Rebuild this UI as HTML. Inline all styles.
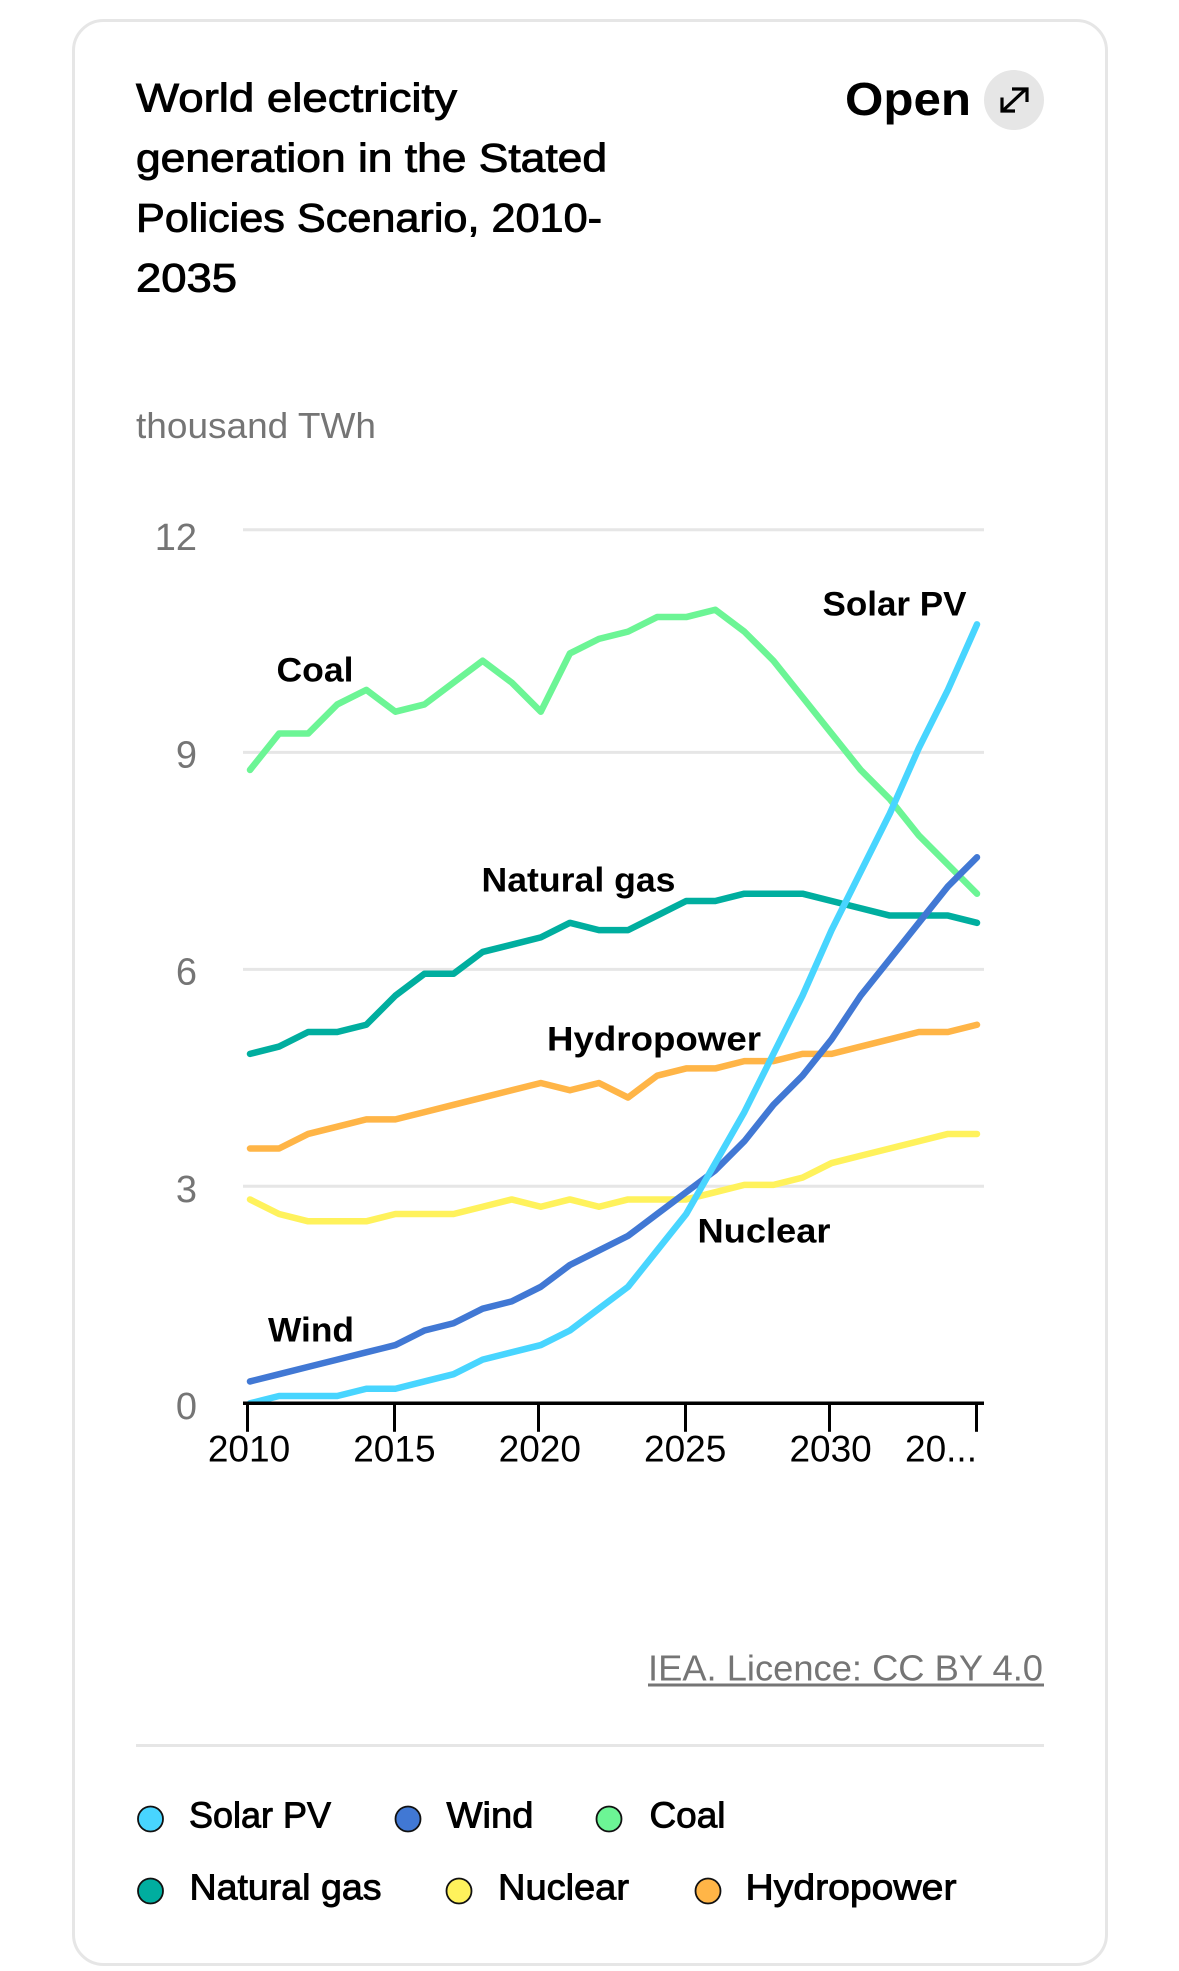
<!DOCTYPE html>
<html lang="en">
<head>
<meta charset="utf-8">
<title>World electricity generation in the Stated Policies Scenario, 2010-2035</title>
<style>
  html, body { margin: 0; padding: 0; background: #ffffff; }
  svg { display: block; font-family: "Liberation Sans", sans-serif; }
  .title { font-size: 40px; font-weight: 400; fill: #000; stroke: #000; stroke-width: 0.9px; }
  .label { font-size: 34px; font-weight: 700; fill: #000; }
  .legend-text { font-size: 36px; font-weight: 400; fill: #000; stroke: #000; stroke-width: 0.9px; }
  .muted { font-size: 36px; fill: #757575; }
  .ytick { font-size: 38px; fill: #757575; }
  .xtick { font-size: 37px; fill: #000; }
</style>
</head>
<body>
<svg id="chart" xmlns="http://www.w3.org/2000/svg" width="1179" height="1971" viewBox="0 0 1179 1971">
  <defs>
    <clipPath id="plot-clip"><rect x="240" y="500" width="750" height="904"></rect></clipPath>
  </defs>
  <rect x="73.5" y="20.5" width="1033" height="1944" rx="30" ry="30" fill="#fff" stroke="#e6e6e6" stroke-width="3"></rect>

  <g>
    <text class="title" x="136" y="111.5" textLength="321" lengthAdjust="spacingAndGlyphs">World electricity</text>
    <text class="title" x="136" y="171.5" textLength="471" lengthAdjust="spacingAndGlyphs">generation in the Stated</text>
    <text class="title" x="136" y="231.5" textLength="466" lengthAdjust="spacingAndGlyphs">Policies Scenario, 2010-</text>
    <text class="title" x="136" y="291.5" textLength="101" lengthAdjust="spacingAndGlyphs">2035</text>
  </g>

  <g>
    <text x="845" y="115" font-size="46" font-weight="700" fill="#000" textLength="126" lengthAdjust="spacingAndGlyphs">Open</text>
    <circle cx="1014" cy="100" r="30" fill="#e6e6e6"></circle>
    <path d="M1003 110.5 L1026 89 M1012 89 H1027 V102 M1002 97.5 V111 H1015" fill="none" stroke="#000" stroke-width="3.2"></path>
  </g>

  <text class="muted" x="136" y="438" textLength="240" lengthAdjust="spacingAndGlyphs">thousand TWh</text>

  <g id="grid"></g>
  <g id="y-labels"></g>
  <g id="series" clip-path="url(#plot-clip)"></g>
  <g id="x-axis"></g>

  <g>
    <text class="label" x="276.5" y="681.5" textLength="77" lengthAdjust="spacingAndGlyphs">Coal</text>
    <text class="label" x="481.5" y="891.5" textLength="194" lengthAdjust="spacingAndGlyphs">Natural gas</text>
    <text class="label" x="822.5" y="615.5" textLength="144" lengthAdjust="spacingAndGlyphs">Solar PV</text>
    <text class="label" x="547" y="1050.5" textLength="214" lengthAdjust="spacingAndGlyphs">Hydropower</text>
    <text class="label" x="697.5" y="1242.5" textLength="133" lengthAdjust="spacingAndGlyphs">Nuclear</text>
    <text class="label" x="268" y="1341.5" textLength="86" lengthAdjust="spacingAndGlyphs">Wind</text>
  </g>

  <g>
    <text class="muted" x="648" y="1680.5" textLength="395" lengthAdjust="spacingAndGlyphs">IEA. Licence: CC BY 4.0</text>
    <line x1="648" y1="1685" x2="1044" y2="1685" stroke="#757575" stroke-width="3"></line>
  </g>

  <line x1="136" y1="1745.5" x2="1044" y2="1745.5" stroke="#e6e6e6" stroke-width="3"></line>

  <g>
    <g>
      <circle cx="150.5" cy="1819" r="12.5" fill="#48d5ff" stroke="#111" stroke-width="1.8"></circle>
      <text class="legend-text" x="189" y="1827.5" textLength="142" lengthAdjust="spacingAndGlyphs">Solar PV</text>
    </g>
    <g>
      <circle cx="408" cy="1819" r="12.5" fill="#4178d4" stroke="#111" stroke-width="1.8"></circle>
      <text class="legend-text" x="446.5" y="1827.5" textLength="87" lengthAdjust="spacingAndGlyphs">Wind</text>
    </g>
    <g>
      <circle cx="609" cy="1819" r="12.5" fill="#6cf595" stroke="#111" stroke-width="1.8"></circle>
      <text class="legend-text" x="649.5" y="1827.5" textLength="76" lengthAdjust="spacingAndGlyphs">Coal</text>
    </g>
    <g>
      <circle cx="150.5" cy="1891" r="12.5" fill="#00ae9f" stroke="#111" stroke-width="1.8"></circle>
      <text class="legend-text" x="189.5" y="1899.5" textLength="192" lengthAdjust="spacingAndGlyphs">Natural gas</text>
    </g>
    <g>
      <circle cx="459" cy="1891" r="12.5" fill="#fff25c" stroke="#111" stroke-width="1.8"></circle>
      <text class="legend-text" x="498" y="1899.5" textLength="131" lengthAdjust="spacingAndGlyphs">Nuclear</text>
    </g>
    <g>
      <circle cx="708" cy="1891" r="12.5" fill="#ffb547" stroke="#111" stroke-width="1.8"></circle>
      <text class="legend-text" x="745.5" y="1899.5" textLength="211" lengthAdjust="spacingAndGlyphs">Hydropower</text>
    </g>
  </g>
</svg>

<script>
const years = [2010,2011,2012,2013,2014,2015,2016,2017,2018,2019,2020,2021,2022,2023,2024,2025,2026,2027,2028,2029,2030,2031,2032,2033,2034,2035];
const hydropower = [3.5,3.5,3.7,3.8,3.9,3.9,4.0,4.1,4.2,4.3,4.4,4.3,4.4,4.2,4.5,4.6,4.6,4.7,4.7,4.8,4.8,4.9,5.0,5.1,5.1,5.2];
const nuclear = [2.8,2.6,2.5,2.5,2.5,2.6,2.6,2.6,2.7,2.8,2.7,2.8,2.7,2.8,2.8,2.8,2.9,3.0,3.0,3.1,3.3,3.4,3.5,3.6,3.7,3.7];
const naturalGas = [4.8,4.9,5.1,5.1,5.2,5.6,5.9,5.9,6.2,6.3,6.4,6.6,6.5,6.5,6.7,6.9,6.9,7.0,7.0,7.0,6.9,6.8,6.7,6.7,6.7,6.6];
const coal = [8.7,9.2,9.2,9.6,9.8,9.5,9.6,9.9,10.2,9.9,9.5,10.3,10.5,10.6,10.8,10.8,10.9,10.6,10.2,9.7,9.2,8.7,8.3,7.8,7.4,7.0];
const wind = [0.3,0.4,0.5,0.6,0.7,0.8,1.0,1.1,1.3,1.4,1.6,1.9,2.1,2.3,2.6,2.9,3.2,3.6,4.1,4.5,5.0,5.6,6.1,6.6,7.1,7.5];
const solarPv = [0.0,0.1,0.1,0.1,0.2,0.2,0.3,0.4,0.6,0.7,0.8,1.0,1.3,1.6,2.1,2.6,3.3,4.0,4.8,5.6,6.5,7.3,8.1,9.0,9.8,10.7];
const yTicks = [0,3,6,9,12];
const xTickYears = [2010,2015,2020,2025,2030,2035];
const xTickLabels = ["2010","2015","2020","2025","2030","20..."];

const SVG_NS = "http://www.w3.org/2000/svg";
const plot = { left: 250, right: 977, base: 1403.3, unit: 72.8, gridUnit: 72.33, labelBase: 1419, labelUnit: 72.4, ruleLeft: 243, ruleRight: 984 };

function xScale(year) {
  return plot.left + (year - years[0]) * (plot.right - plot.left) / (years[years.length - 1] - years[0]);
}
function yScale(value) {
  return plot.base - value * plot.unit;
}
function gridY(value) {
  return value === yTicks[yTicks.length - 1] ? yScale(value) : plot.base - value * plot.gridUnit;
}
function tickX(year) {
  return Math.floor((xScale(year) - 1.5) / 3) * 3 + 1.5;
}
function make(tag, attrs) {
  const el = document.createElementNS(SVG_NS, tag);
  Object.keys(attrs).forEach(function (k) { el.setAttribute(k, attrs[k]); });
  return el;
}

const gridGroup = document.getElementById("grid");
const yLabelGroup = document.getElementById("y-labels");
yTicks.forEach(function (v) {
  if (v !== 0) {
    const rule = make("line", { x1: plot.ruleLeft, x2: plot.ruleRight, y1: gridY(v), y2: gridY(v), stroke: "#e6e6e6", "stroke-width": 3 });
    
    
    gridGroup.appendChild(rule);
  }
  const label = make("text", { x: 197, y: plot.labelBase - v * plot.labelUnit, "text-anchor": "end", "class": "ytick" });
  
  
  label.textContent = String(v);
  yLabelGroup.appendChild(label);
});

const seriesOrder = [
  { key: "hydropower", values: hydropower, color: "#ffb547" },
  { key: "nuclear", values: nuclear, color: "#fff25c" },
  { key: "natural-gas", values: naturalGas, color: "#00ae9f" },
  { key: "coal", values: coal, color: "#6cf595" },
  { key: "wind", values: wind, color: "#4178d4" },
  { key: "solar-pv", values: solarPv, color: "#48d5ff" }
];
const seriesGroup = document.getElementById("series");
seriesOrder.forEach(function (s) {
  const d = s.values.map(function (v, i) {
    return (i ? "L" : "M") + xScale(years[i]).toFixed(2) + " " + yScale(v).toFixed(2);
  }).join(" ");
  const path = make("path", { d: d, fill: "none", stroke: s.color, "stroke-width": 6.5, "stroke-linecap": "round", "stroke-linejoin": "round" });
  
  
  seriesGroup.appendChild(path);
});

const xAxis = document.getElementById("x-axis");
const axisLine = make("line", { x1: plot.ruleLeft, x2: plot.ruleRight, y1: plot.base, y2: plot.base, stroke: "#000", "stroke-width": 3.5 });


xAxis.appendChild(axisLine);
xTickYears.forEach(function (year, i) {
  const tick = make("line", { x1: tickX(year), x2: tickX(year), y1: plot.base, y2: plot.base + 28.5, stroke: "#000", "stroke-width": 3 });
  
  
  xAxis.appendChild(tick);
  const isLast = i === xTickYears.length - 1;
  const label = make("text", { x: isLast ? xScale(year) : xScale(year) - 1, y: 1461.5, "text-anchor": isLast ? "end" : "middle", "class": "xtick" });
  
  
  label.textContent = xTickLabels[i];
  xAxis.appendChild(label);
});
</script>
</body>
</html>
